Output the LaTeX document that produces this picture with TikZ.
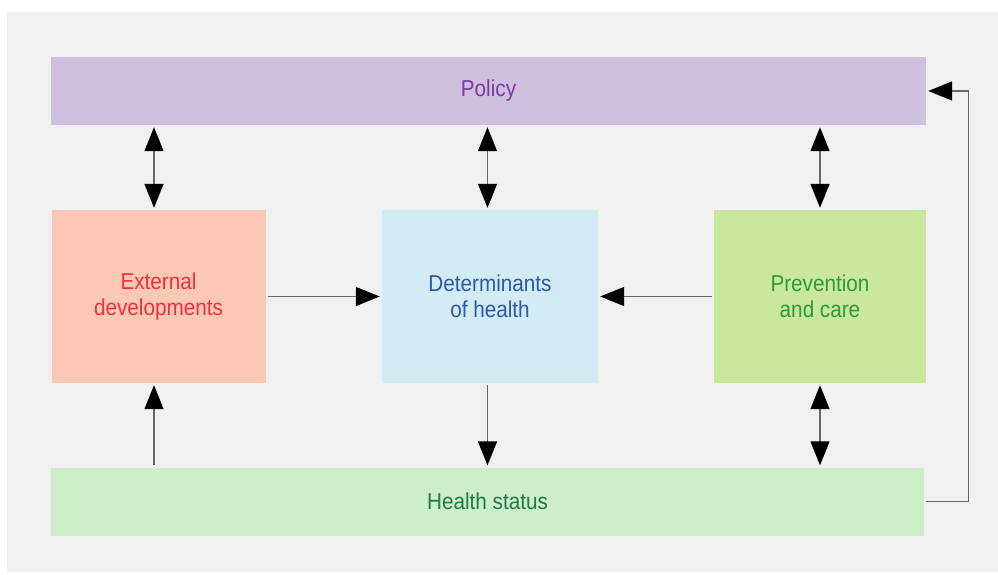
\documentclass[tikz,border=0pt]{standalone}
\usepackage{fontspec}
\setmainfont{Liberation Sans}[FakeStretch=0.9]
\usetikzlibrary{arrows.meta}
\definecolor{bgGrey}{HTML}{F0F0F0}
\definecolor{policyFill}{HTML}{CFC0E0}
\definecolor{externFill}{HTML}{FDC9B6}
\definecolor{determFill}{HTML}{D3EBF4}
\definecolor{preventFill}{HTML}{C9E89C}
\definecolor{healthFill}{HTML}{CDEEC9}
\definecolor{policyText}{HTML}{7A3A9E}
\definecolor{externText}{HTML}{F2303C}
\definecolor{determText}{HTML}{2A5AA8}
\definecolor{preventText}{HTML}{2E9A3C}
\definecolor{healthText}{HTML}{1F7A4A}
\begin{document}
\begin{tikzpicture}[x=1pt,y=-1pt]
	\tikzstyle{every node} = [font=\fontsize{23}{26}\selectfont, align=center, inner sep=0pt];
	\tikzstyle{bar} = [minimum height=68pt];
	\tikzstyle{box} = [minimum width=214pt, minimum height=173pt];
	\tikzstyle{link} = [draw=black!60, line width=1.4pt, -{Triangle[width=19pt,length=24pt,black]}, shorten >=2pt, shorten <=2pt];
	\tikzstyle{both} = [link, {Triangle[width=19pt,length=24pt,black]}-{Triangle[width=19pt,length=24pt,black]}];
	\useasboundingbox (0,0) rectangle (998,574);
	\fill[white] (0,0) rectangle (998,574);
	\fill[bgGrey] (7,12) rectangle (998,572);
	% top and bottom bars
	\node[bar, fill=policyFill, text=policyText, minimum width=875pt] (policy) at (488.5,91) {Policy};
	\node[bar, fill=healthFill, text=healthText, minimum width=873pt] (health) at (487.5,501.5) {Health status};
	% middle row
	\node[box, fill=externFill, text=externText] (extern) at (158.5,296.5) {External\\developments};
	\node[box, fill=determFill, text=determText, minimum width=216pt] (determ) at (490,296.5) {Determinants\\of health};
	\node[box, fill=preventFill, text=preventText, minimum width=212pt] (prevent) at (820,296.5) {Prevention\\and care};
	\coordinate (extcol) at ([xshift=-4.5pt]extern.north);
	% arrows
	\draw[both] (extcol |- policy.south) -- (extcol);
	\draw[both] (health.north |- policy.south) -- (health.north |- determ.north);
	\draw[both] (prevent.north |- policy.south) -- (prevent.north);
	\draw[link] (extern.east) -- (determ.west);
	\draw[link] (prevent.west) -- (determ.east);
	\draw[link] (health.north |- determ.south) -- (health.north);
	\draw[both] (prevent.south) -- (prevent.south |- health.north);
	\draw[link] (extcol |- health.north) -- (extcol |- extern.south);
	\draw[link] (health.east) -- ++(44,0) |- (policy.east);
\end{tikzpicture}
\end{document}
